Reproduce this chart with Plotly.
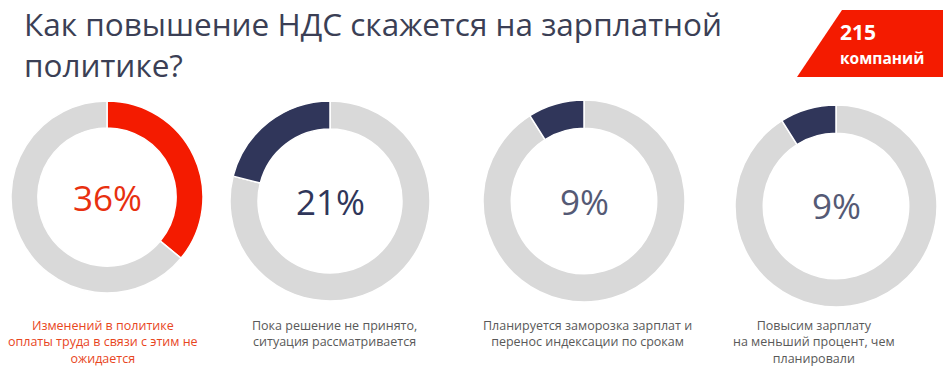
import plotly.graph_objects as go

W, H = 943, 372

# Data
shares = [36, 21, 9, 9]
labels = [
    "Изменений в политике<br>оплаты труда в связи с этим не<br>ожидается",
    "Пока решение не принято,<br>ситуация рассматривается",
    "Планируется заморозка зарплат и<br>перенос индексации по срокам",
    "Повысим зарплату<br>на меньший процент, чем<br>планировали",
]
title_text = "Как повышение НДС скажется на зарплатной<br>политике?"
badge_number = "215"
badge_word = "компаний"

# Styles / layout
centers = [(107, 197), (330, 201), (584, 201), (836, 206)]
radius = [96, 100, 101, 101]
seg_colors = ["#f41b00", "#30365a", "#30365a", "#30365a"]
pct_colors = ["#e8300f", "#30365a", "#555a75", "#555a75"]
seg_first = [True, False, False, False]  # highlighted segment drawn clockwise from top?
label_colors = ["#e8461e", "#595959", "#595959", "#595959"]
label_cx = [103, 334, 587, 814]
GREY = "#d9d9d9"
FONT = "Open Sans, sans-serif"

fig = go.Figure()
for i, v in enumerate(shares):
    cx, cy = centers[i]
    r = radius[i]
    if seg_first[i]:
        vals, cols = [v, 100 - v], [seg_colors[i], GREY]
    else:
        vals, cols = [100 - v, v], [GREY, seg_colors[i]]
    fig.add_trace(go.Pie(
        values=vals,
        labels=["a", "b"],
        sort=False,
        direction="clockwise",
        rotation=0,
        hole=0.72,
        marker=dict(colors=cols, line=dict(color="white", width=1.5)),
        textinfo="none",
        hoverinfo="skip",
        showlegend=False,
        domain=dict(x=[(cx - r) / W, (cx + r) / W],
                    y=[(H - cy - r) / H, (H - cy + r) / H]),
    ))
    fig.add_annotation(
        x=cx / W, y=(H - cy) / H, xref="paper", yref="paper",
        text=f"{v}%", showarrow=False,
        font=dict(family=FONT, size=35, color=pct_colors[i]),
        xanchor="center", yanchor="middle",
    )
    fig.add_annotation(
        x=label_cx[i] / W, y=(H - 315) / H, xref="paper", yref="paper",
        text=labels[i], showarrow=False, align="center",
        font=dict(family=FONT, size=12.5, color=label_colors[i]),
        xanchor="center", yanchor="top",
    )

# title
fig.add_annotation(
    x=22 / W, y=1.0, xref="paper", yref="paper",
    text=title_text, showarrow=False, align="left",
    font=dict(family=FONT, size=31.5, color="#3b3f55"),
    xanchor="left", yanchor="top",
)

# badge
x0, x1, x2 = 842 / W, 797 / W, 1.0
yt, yb = 1 - 10 / H, 1 - 77 / H
fig.add_shape(type="path", xref="paper", yref="paper",
              path=f"M {x0} {yt} L {x2} {yt} L {x2} {yb} L {x1} {yb} Z",
              fillcolor="#f41b00", line=dict(width=0), layer="below")
fig.add_annotation(x=838 / W, y=1 - 32 / H, xref="paper", yref="paper",
                   text=f"<b>{badge_number}</b>", showarrow=False,
                   font=dict(family=FONT, size=21, color="white"),
                   xanchor="left", yanchor="middle")
fig.add_annotation(x=838 / W, y=1 - 58 / H, xref="paper", yref="paper",
                   text=f"<b>{badge_word}</b>", showarrow=False,
                   font=dict(family=FONT, size=15.5, color="white"),
                   xanchor="left", yanchor="middle")

fig.update_layout(
    width=W, height=H,
    margin=dict(l=0, r=0, t=0, b=0),
    paper_bgcolor="white", plot_bgcolor="white",
)
fig.write_html("out.html", config={"displayModeBar": False},
               post_script="document.body.style.margin='0px';")
